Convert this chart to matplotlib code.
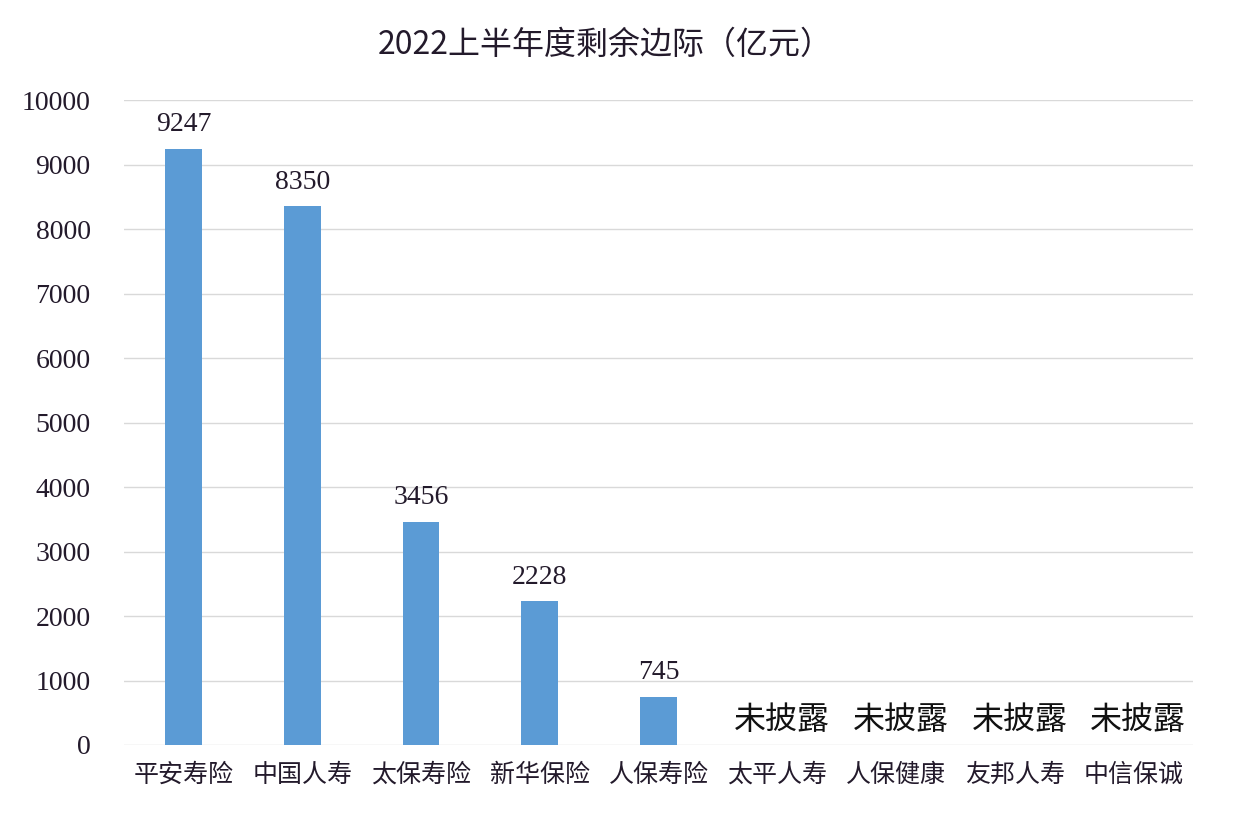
import matplotlib
matplotlib.use('Agg')
import matplotlib.pyplot as plt

categories = ['平安寿险', '中国人寿', '太保寿险', '新华保险', '人保寿险',
              '太平人寿', '人保健康', '友邦人寿', '中信保诚']
values = [9247, 8350, 3456, 2228, 745, None, None, None, None]
missingText = '未披露'
yTicks = list(range(0, 10001, 1000))

plt.rcParams['font.family'] = ['Noto Sans CJK SC', 'DejaVu Sans']
textColor = '#231a2b'
numFont = ['Liberation Serif', 'DejaVu Serif']

fig = plt.figure(figsize=(12.36, 8.22), dpi=100)
ax = fig.add_axes([124 / 1236, 1 - 745 / 822, 1069 / 1236, 645 / 822])

xs = list(range(len(categories)))
for x, v in zip(xs, values):
    if v is None:
        ax.text(x + 0.04, 390, missingText, ha='center', va='center',
                fontsize=23, color='#111111')
        continue
    ax.bar(x, v, width=0.31, color='#5B9BD5', zorder=3)
    ax.text(x, v + 180, str(v), ha='center', va='bottom', fontsize=20,
            color=textColor, family=numFont)

ax.set_xlim(-0.5, len(categories) - 0.5)
ax.set_ylim(0, 10000)
ax.set_yticks(yTicks)
ax.set_yticklabels([str(t) for t in yTicks], fontsize=20, color=textColor,
                   family=numFont)
ax.set_xticks(xs)
ax.set_xticklabels(categories, fontsize=18, color=textColor)
ax.tick_params(axis='y', length=0, pad=24)
ax.tick_params(axis='x', length=0, pad=12)
ax.grid(axis='y', color='#d9d9d9', linewidth=1, zorder=0)
for s in ax.spines.values():
    s.set_visible(False)

fig.text(605 / 1236, 1 - 45 / 822, '2022上半年度剩余边际（亿元）', ha='center',
         va='center', fontsize=23, color=textColor, fontweight='light')

fig.savefig('out.png', dpi=100, facecolor='white')
